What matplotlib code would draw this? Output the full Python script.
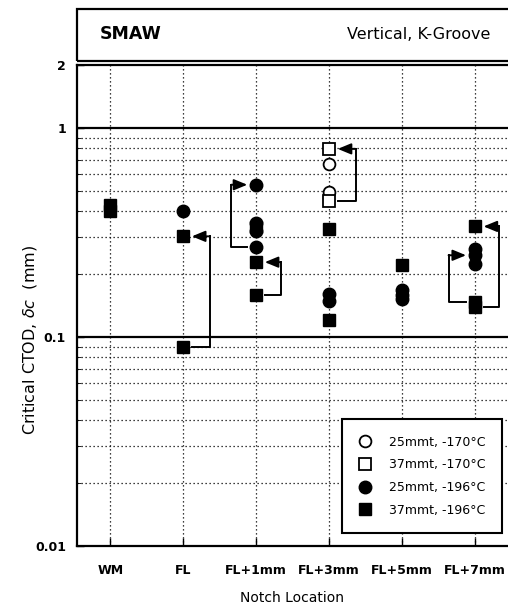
import numpy as np
import matplotlib
matplotlib.use('Agg')
import matplotlib.pyplot as plt
from matplotlib.ticker import LogLocator, NullFormatter
from matplotlib.patches import Rectangle

plt.rcParams['font.family'] = 'DejaVu Sans'

locations = ['WM', 'FL', 'FL+1mm', 'FL+3mm', 'FL+5mm', 'FL+7mm']

# 25 mm thick, -170 C (open circles)
x_o25 = [3, 3]
v_o25 = [0.674, 0.496]
# 37 mm thick, -170 C (open squares)
x_o37 = [3, 3]
v_o37 = [0.794, 0.449]
# 25 mm thick, -196 C (filled circles)
x_f25 = [1, 2, 2, 2, 2, 3, 3, 4, 4, 4, 5, 5, 5]
v_f25 = [0.40, 0.535, 0.35, 0.32, 0.268, 0.160, 0.148, 0.167, 0.159, 0.152, 0.265, 0.246, 0.223]
# 37 mm thick, -196 C (filled squares)
x_f37 = [0, 0, 1, 1, 2, 2, 2, 3, 3, 4, 5, 5, 5]
v_f37 = [0.43, 0.40, 0.303, 0.0896, 0.335, 0.228, 0.158, 0.330, 0.120, 0.220, 0.338, 0.147, 0.139]

# arrows: (location, from value, to value, side of the bar)
arrows = [(1, 0.0896, 0.303, 0.37),
          (2, 0.268, 0.535, -0.34),
          (2, 0.158, 0.228, 0.34),
          (3, 0.449, 0.794, 0.37),
          (5, 0.147, 0.246, -0.36),
          (5, 0.139, 0.338, 0.33)]

fig = plt.figure(figsize=(5.08, 6.14), dpi=100)
ax = fig.add_axes([0.1516, 0.1107, 0.8484, 0.7834])

ax.set_yscale('log')
ax.set_ylim(0.01, 2)
ax.set_xlim(-0.455, 5.455)

# dotted grid, solid lines at the decades
ax.yaxis.set_minor_locator(LogLocator(base=10, subs=np.arange(2, 10)))
ax.yaxis.set_minor_formatter(NullFormatter())
ax.grid(True, which='minor', axis='y', ls=(0, (1, 2.2)), color='k', lw=0.9)
for xi in range(len(locations)):
    ax.axvline(xi, ls=(0, (1, 2.2)), color='k', lw=0.9, zorder=1)
ax.axhline(1, color='k', lw=1.6, zorder=1)
ax.axhline(0.1, color='k', lw=1.6, zorder=1)

ax.plot(x_o25, v_o25, 'o', mfc='white', mec='k', mew=1.3, ms=8.5, ls='none', label='25mmt, -170°C', zorder=3)
ax.plot(x_o37, v_o37, 's', mfc='white', mec='k', mew=1.3, ms=8.5, ls='none', label='37mmt, -170°C', zorder=3)
ax.plot(x_f25, v_f25, 'o', color='k', ms=9, ls='none', label='25mmt, -196°C', zorder=3)
ax.plot(x_f37, v_f37, 's', color='k', ms=9, ls='none', label='37mmt, -196°C', zorder=3)

for xi, v0, v1, off in arrows:
    gap = 0.12 * np.sign(off)
    ax.plot([xi + gap, xi + off, xi + off], [v0, v0, v1], color='k', lw=1.4, zorder=4)
    ax.annotate('', xy=(xi + gap, v1), xytext=(xi + off, v1),
                arrowprops=dict(arrowstyle='-|>,head_length=0.8,head_width=0.33',
                                color='k', lw=1.4, shrinkA=0, shrinkB=0), zorder=4)

ax.set_yticks([0.01, 0.1, 1, 2])
ax.set_yticklabels(['0.01', '0.1', '1', '2'], fontweight='bold', fontsize=9)
ax.set_xticks(range(len(locations)))
ax.set_xticklabels(locations, fontweight='bold', fontsize=9)
ax.tick_params(axis='both', which='both', direction='in')
ax.tick_params(axis='y', which='major', length=5, width=1, pad=8)
ax.tick_params(axis='y', which='minor', length=3)
ax.tick_params(axis='x', length=6, width=1, pad=13)

for s in ['left', 'bottom', 'top']:
    ax.spines[s].set_linewidth(1.6)
ax.spines['right'].set_visible(False)

leg = ax.legend(loc='lower right', bbox_to_anchor=(0.986, 0.027), borderaxespad=0,
                fancybox=False, edgecolor='k', framealpha=1, fontsize=9,
                handletextpad=1.3, labelspacing=0.78, borderpad=1.3, handlelength=1.2)
leg.get_frame().set_linewidth(1.5)

# header box
fig.patches.append(Rectangle((0.1516, 0.9007), 0.86, 0.0846, transform=fig.transFigure,
                             fill=False, ec='k', lw=1.6))
fig.text(0.197, 0.944, 'SMAW', fontsize=12.5, fontweight='bold', va='center')
fig.text(0.965, 0.944, 'Vertical, K-Groove', fontsize=11.5, va='center', ha='right')

fig.text(0.06, 1 - 340 / 614., r'Critical CTOD, $\delta c$  (mm)', rotation=90,
         fontsize=11.5, ha='center', va='center')
fig.text(0.575, 1 - 598 / 614., 'Notch Location', fontsize=10, ha='center', va='center')

plt.savefig('out.png', dpi=100)
